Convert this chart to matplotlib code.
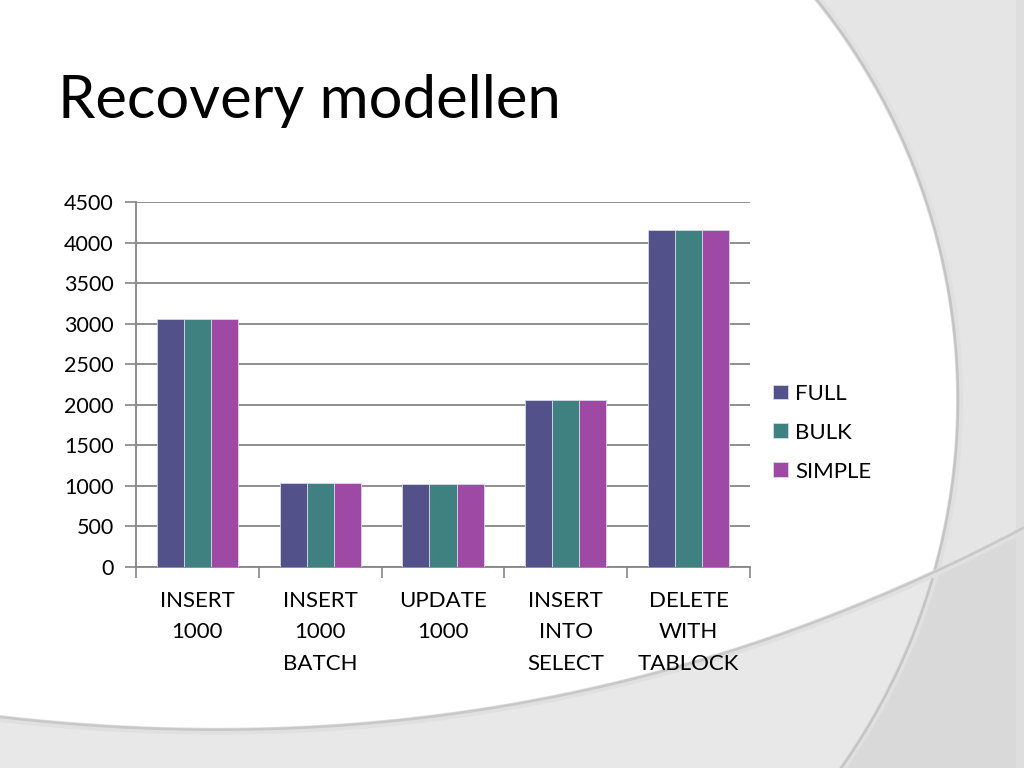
import numpy as np
import matplotlib.pyplot as plt
from matplotlib.patches import Polygon, Rectangle

# data
categories = ['INSERT\n1000', 'INSERT\n1000\nBATCH', 'UPDATE\n1000', 'INSERT\nINTO\nSELECT', 'DELETE\nWITH\nTABLOCK']
full = [3060, 1035, 1020, 2055, 4160]
bulk = [3060, 1035, 1020, 2055, 4160]
simple = [3060, 1035, 1020, 2055, 4160]
series_names = ['FULL', 'BULK', 'SIMPLE']
colors = ['#52518a', '#3f8080', '#9e4aa5']

plt.rcParams['font.family'] = ['Lato', 'DejaVu Sans']

fig = plt.figure(figsize=(10.24, 7.68), dpi=100)
fig.patch.set_facecolor('white')

# slide background decoration (pixel coordinates)
bg = fig.add_axes([0, 0, 1, 1], zorder=0)
bg.set_xlim(0, 1024)
bg.set_ylim(768, 0)
bg.axis('off')

cx, cy, R = 320, 400, 638
ys = np.linspace(0, 768, 200)
arc_x = cx + np.sqrt(R ** 2 - (ys - cy) ** 2)
right_poly = np.column_stack([np.r_[arc_x, 1024, 1024], np.r_[ys, 768, 0]])

cp_x = [0, 250, 520, 780, 937, 1024]
cp_y = [718, 726, 708, 633, 568, 530]
coef = np.polyfit(cp_x, cp_y, 3)
xs = np.linspace(0, 1024, 200)
curve_y = np.polyval(coef, xs)
low_poly = np.column_stack([np.r_[xs, 1024, 0], np.r_[curve_y, 768, 768]])

p_right = Polygon(right_poly, closed=True, facecolor='#e5e5e5', edgecolor='none')
bg.add_patch(p_right)
bg.add_patch(Polygon(low_poly, closed=True, facecolor='#e8e8e8', edgecolor='none'))
p_over = Polygon(low_poly, closed=True, facecolor='#d9d9d9', edgecolor='none')
bg.add_patch(p_over)
p_over.set_clip_path(p_right)
bg.add_patch(Rectangle((1016, 0), 8, 768, facecolor='#dedede', edgecolor='none'))

bg.plot(arc_x + 1.5, ys, color='#e0e0e0', lw=5)
bg.plot(arc_x, ys, color='#c4c4c4', lw=1.8)
bg.plot(xs, curve_y + 1.5, color='#e0e0e0', lw=5)
bg.plot(xs, curve_y, color='#c8c8c8', lw=1.8)

fig.text(58 / 1024, 1 - 118 / 768, 'Recovery modellen', fontsize=43, color='black',
         ha='left', va='baseline')

ax = fig.add_axes([136 / 1024, 1 - 567 / 768, 614 / 1024, 365 / 768], zorder=2)
ax.set_facecolor('none')

x = np.arange(len(categories))
w = 0.22
for i, (vals, name) in enumerate(zip([full, bulk, simple], series_names)):
    ax.bar(x + (i - 1) * w, vals, width=w, color=colors[i], label=name,
           edgecolor='#d8d8e8', linewidth=0.6, zorder=3)

ax.set_xlim(-0.5, len(categories) - 0.5)
ax.set_ylim(0, 4500)
ax.set_yticks(np.arange(0, 4501, 500))
ax.yaxis.grid(True, color='#868686', linewidth=1.3)
ax.set_axisbelow(True)

ax.set_xticks(x)
ax.set_xticklabels(categories, fontsize=16, linespacing=1.72)
ax.set_xticks(np.arange(-0.5, len(categories)), minor=True)
ax.tick_params(axis='x', which='major', length=0, pad=17)
ax.tick_params(axis='x', which='minor', length=8, width=1.2, color='#868686')
ax.tick_params(axis='y', length=8, width=1.2, color='#868686', labelsize=15.5, pad=8)

for s in ['top', 'right']:
    ax.spines[s].set_visible(False)
for s in ['left', 'bottom']:
    ax.spines[s].set_color('#868686')
    ax.spines[s].set_linewidth(1.3)

ax.legend(loc='center left', bbox_to_anchor=(1.005, 0.368), frameon=False, fontsize=16,
          handlelength=0.65, handleheight=0.65, handletextpad=0.35, labelspacing=0.85)

fig.savefig('out.png', dpi=100)
